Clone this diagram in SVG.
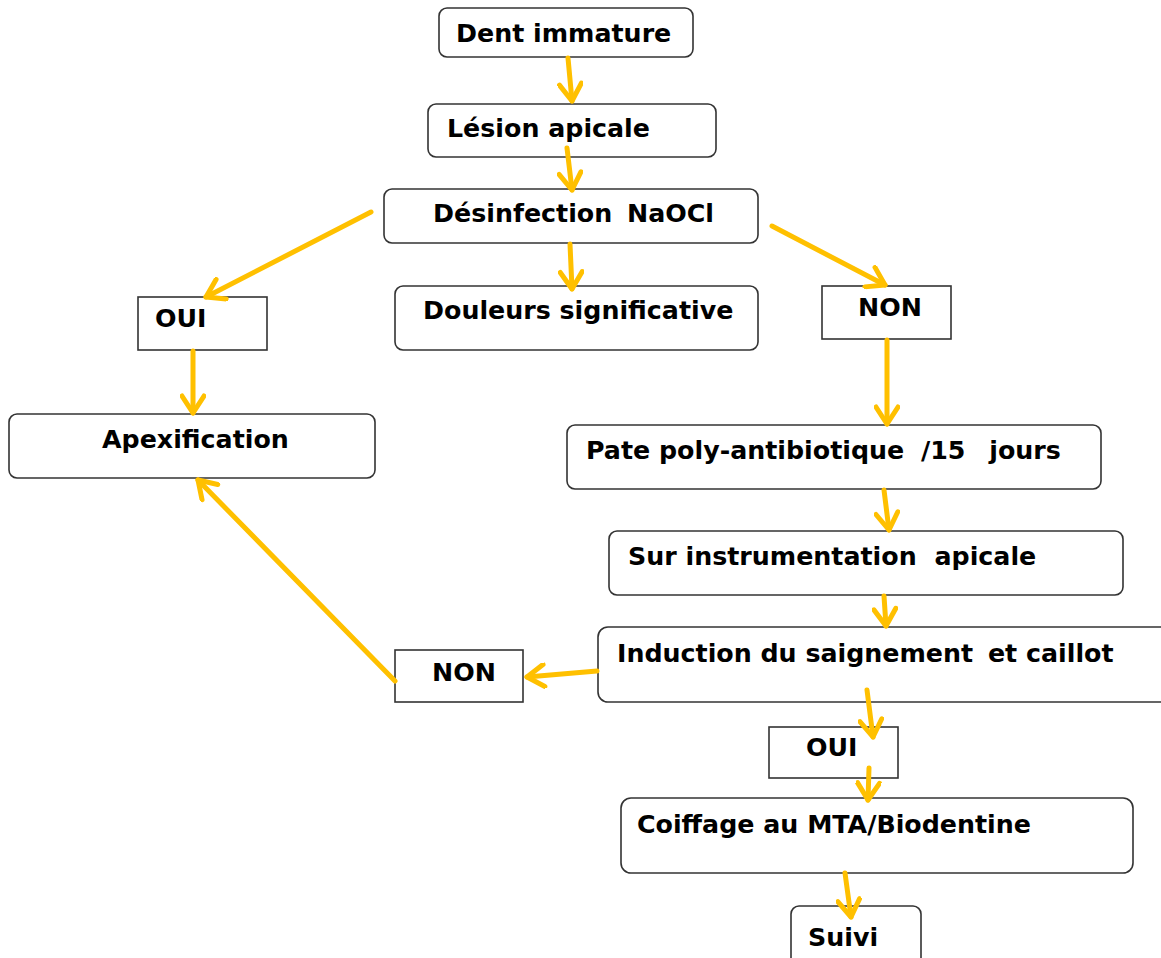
<svg xmlns="http://www.w3.org/2000/svg" width="1161" height="958" viewBox="0 0 1161 958">
<style>
.box{fill:#fff;stroke:#333;stroke-width:1.6}
.t{font-family:"DejaVu Sans",Verdana,sans-serif;font-weight:bold;font-size:25.3px;fill:#000}
.c{fill:none;stroke:#FFC000;stroke-width:5;stroke-linecap:round}
</style>
<defs>
<marker id="ah" markerUnits="userSpaceOnUse" viewBox="0 0 26 26" refX="21" refY="13" markerWidth="26" markerHeight="26" orient="auto">
<path d="M4,2 L21,13 L4,24" fill="none" stroke="#FFC000" stroke-width="5" stroke-linecap="round" stroke-linejoin="round"/>
</marker>
</defs>
<rect width="1161" height="958" fill="#fff"/>
<g id="nodes">
<g id="n1"><rect class="box" x="439" y="8" width="254" height="49" rx="8"/><text class="t" x="456" y="42">Dent immature</text></g>
<g id="n2"><rect class="box" x="428" y="104" width="288" height="53" rx="8"/><text class="t" x="447" y="137">Lésion apicale</text></g>
<g id="n3"><rect class="box" x="384" y="189" width="374" height="54" rx="8"/><text class="t" x="433" y="222" word-spacing="6">Désinfection NaOCl</text></g>
<g id="n4"><rect class="box" x="138" y="297" width="129" height="53"/><text class="t" x="155" y="327">OUI</text></g>
<g id="n5"><rect class="box" x="395" y="286" width="363" height="64" rx="8"/><text class="t" x="423" y="319">Douleurs significative</text></g>
<g id="n6"><rect class="box" x="822" y="286" width="129" height="53"/><text class="t" x="858" y="316">NON</text></g>
<g id="n7"><rect class="box" x="9" y="414" width="366" height="64" rx="8"/><text class="t" x="102" y="448">Apexification</text></g>
<g id="n8"><rect class="box" x="567" y="425" width="534" height="64" rx="8"/><text class="t" x="586" y="459">Pate poly-antibiotique<tspan dx="8"> /15</tspan><tspan dx="15"> jours</tspan></text></g>
<g id="n9"><rect class="box" x="609" y="531" width="514" height="64" rx="8"/><text class="t" x="628" y="565">Sur instrumentation<tspan dx="9"> apicale</tspan></text></g>
<g id="n10"><rect class="box" x="598" y="627" width="572" height="75" rx="10"/><text class="t" x="617" y="662">Induction du saignement<tspan dx="6"> et caillot</tspan></text></g>
<g id="n11"><rect class="box" x="395" y="650" width="128" height="52"/><text class="t" x="432" y="681">NON</text></g>
<g id="n12"><rect class="box" x="769" y="727" width="129" height="51"/><text class="t" x="806" y="756">OUI</text></g>
<g id="n13"><rect class="box" x="621" y="798" width="512" height="75" rx="10"/><text class="t" x="637" y="833">Coiffage au MTA/Biodentine</text></g>
<g id="n14"><rect class="box" x="791" y="906" width="130" height="60" rx="8"/><text class="t" x="808" y="946">Suivi</text></g>
</g>
<g id="connectors">
<line class="c" x1="568" y1="58" x2="572" y2="101" marker-end="url(#ah)"/>
<line class="c" x1="567" y1="148" x2="572" y2="190" marker-end="url(#ah)"/>
<line class="c" x1="371" y1="212" x2="206" y2="297" marker-end="url(#ah)"/>
<line class="c" x1="570" y1="244" x2="572" y2="289" marker-end="url(#ah)"/>
<line class="c" x1="772" y1="226" x2="885" y2="285" marker-end="url(#ah)"/>
<line class="c" x1="193" y1="351" x2="193" y2="413" marker-end="url(#ah)"/>
<line class="c" x1="887" y1="340" x2="887" y2="424" marker-end="url(#ah)"/>
<line class="c" x1="884" y1="490" x2="889" y2="530" marker-end="url(#ah)"/>
<line class="c" x1="884" y1="596" x2="886" y2="626" marker-end="url(#ah)"/>
<line class="c" x1="597" y1="671" x2="527" y2="677" marker-end="url(#ah)"/>
<line class="c" x1="395" y1="681" x2="198" y2="480" marker-end="url(#ah)"/>
<line class="c" x1="867" y1="690" x2="873" y2="737" marker-end="url(#ah)"/>
<line class="c" x1="869" y1="768" x2="868" y2="800" marker-end="url(#ah)"/>
<line class="c" x1="845" y1="873" x2="851" y2="917" marker-end="url(#ah)"/>
</g>
</svg>
